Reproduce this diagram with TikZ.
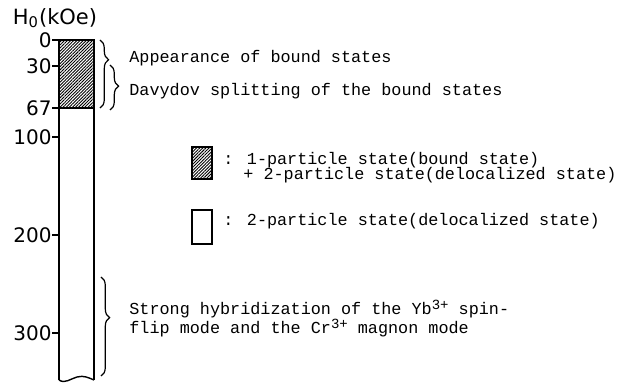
\documentclass[tikz,border=0pt]{standalone}
\usepackage{fontspec}
\usetikzlibrary{decorations.pathreplacing, patterns.meta}
\newfontfamily\monofont{Liberation Mono}
\newfontfamily\axisfont{DejaVu Sans}
\newcommand\upchg[1]{\raisebox{0.6ex}{\fontsize{7}{8}\selectfont #1}}

\begin{document}
\begin{tikzpicture}[x=0.5pt, y=-0.5pt,
    note/.style={font=\monofont\fontsize{8.4}{9}\selectfont, inner sep=0, anchor=base west},
    ticklabel/.style={font=\axisfont\fontsize{10}{12}\selectfont, inner sep=0, anchor=east},
    hatched/.style={pattern={Lines[angle=45, distance=1.1pt, line width=0.45pt]}},
    barline/.style={line width=0.7pt},
    bracket/.style={decorate, decoration={brace, amplitude=4.3pt}, line width=0.6pt}]
  \useasboundingbox (0,0) rectangle (644,385);

  % field axis
  \node[font=\axisfont\fontsize{10.5}{12}\selectfont, inner sep=0] (hzero) at (55,18) {H\textsubscript{0}(kOe)};

  % the bar
  \fill[hatched] (59,40) rectangle (94,108);
  \draw[barline] (59,380) -- (59,40) -- (94,40) -- (94,380);
  \draw[barline] (59,108) -- (94,108);
  \draw[barline] (59,380) .. controls (65,384) and (70,379) .. (77,377)
                          .. controls (84,375) and (89,378) .. (94,380);

  \foreach \v/\y in {0/40, 30/66, 67/108, 100/137, 200/235, 300/333}{
    \node[ticklabel] (t\v) at (52,\y) {\v};
    \draw[barline] (t\v.east) -- (59,\y);
  }

  % braces
  \draw[bracket, decoration={aspect=0.29}] (100,40) -- (100,108);
  \draw[bracket, decoration={aspect=0.47}] (110,65) -- (110,110);
  \draw[bracket, decoration={aspect=0.41}] (101,277) -- (101,376);

  \node[note] (appear) at (129,63) {Appearance of bound states};
  \node[note] (davydov) at (129,96) {Davydov splitting of the bound states};

  % legend
  \draw[barline, hatched] (192,147) rectangle (212,179);
  \node[note] (boundA) at (223,165) {: 1-particle state(bound state)};
  \node[note] (boundB) at (243,180) {+ 2-particle state(delocalized state)};

  \draw[barline] (192,210) rectangle (212,244);
  \node[note] (deloc) at (223,226) {: 2-particle state(delocalized state)};

  \node[note] (hybA) at (129,315) {Strong hybridization of the Yb\upchg{3+} spin-};
  \node[note] (hybB) at (129,334) {flip mode and the Cr\upchg{3+} magnon mode};
\end{tikzpicture}
\end{document}
